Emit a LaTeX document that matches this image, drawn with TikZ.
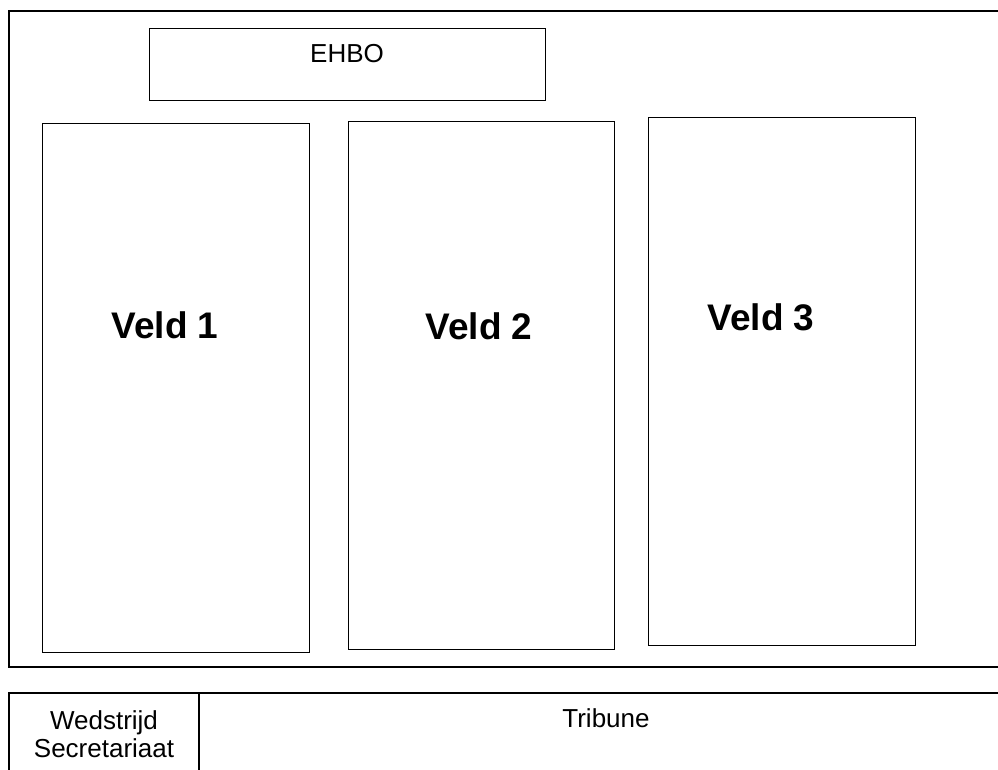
\documentclass[tikz,border=0pt]{standalone}
\usepackage{fontspec}
\setmainfont{Liberation Sans}
\tikzset{
  vak/.style={draw, line width=1pt, inner sep=0pt, anchor=north west},
  veldtekst/.style={inner sep=0pt, font=\fontsize{37}{41}\selectfont\bfseries},
  bordtekst/.style={inner sep=0pt, align=center, font=\fontsize{26}{28}\selectfont},
}
\begin{document}
\begin{tikzpicture}[x=1pt,y=-1pt]
        \useasboundingbox (0,0) rectangle (998,769);
        \clip (0,0) rectangle (998,769);

        % terrein
        \draw[line width=1.6pt] (9,11) rectangle (1010,667);

        \node[vak, minimum width=396pt, minimum height=72pt] (ehbo) at (149,28) {};
        \node[bordtekst] (ehbotekst) at (347,54) {EHBO};

        \node[vak, minimum width=267pt, minimum height=529pt] (veld1) at (42,123) {};
        \node[veldtekst] (veld1tekst) at (165,325) {Veld 1};

        \node[vak, minimum width=266pt, minimum height=528pt] (veld2) at (347.5,121) {};
        \node[veldtekst] (veld2tekst) at (479,326) {Veld 2};

        \node[vak, minimum width=267pt, minimum height=528pt] (veld3) at (648,117) {};
        \node[veldtekst] (veld3tekst) at (761,317) {Veld 3};

        % tribune
        \draw[line width=1.6pt] (1010,693) -- (9,693) -- (9,780);
        \draw[line width=1.3pt] (199,693) -- (199,780);
        \node[bordtekst] (secretariaat) at (104,734.5) {Wedstrijd\\Secretariaat};
        \node[bordtekst] (tribune) at (606,718) {Tribune};

    \end{tikzpicture}
\end{document}
